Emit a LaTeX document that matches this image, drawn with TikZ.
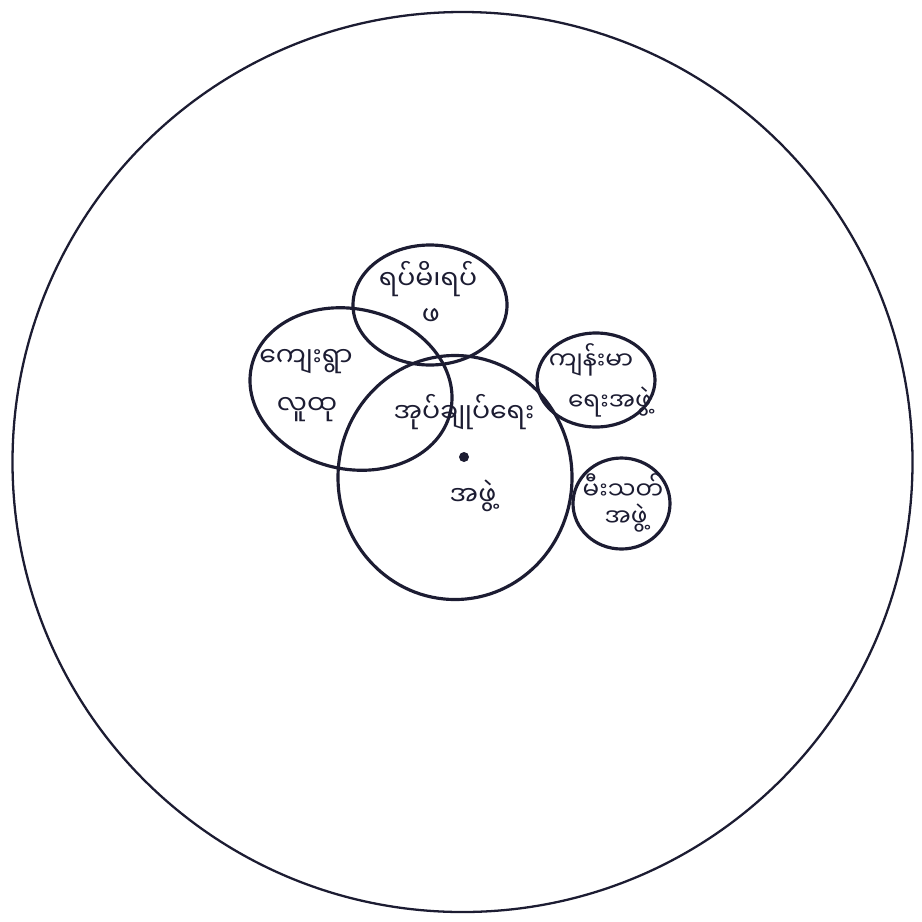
\documentclass[tikz,border=0pt]{standalone}
\usepackage{fontspec}
\newfontfamily\mmfont[Script=Myanmar]{Noto Sans Myanmar UI}
\definecolor{ink}{RGB}{28,28,50}
\begin{document}
\begin{tikzpicture}[x=0.01cm,y=-0.01cm,
  lbl/.style={font=\mmfont\fontsize{7.6}{9}\selectfont, inner sep=0pt, text=ink},
  slbl/.style={font=\mmfont\fontsize{7}{8.5}\selectfont, inner sep=0pt, text=ink},
  ring/.style={draw=ink, line width=0.9pt},
  outer/.style={draw=ink, line width=0.65pt}]
\useasboundingbox (0,0) rectangle (922,921);
% outer circle
\draw[outer] (462.5,462) circle [radius=450];
% group circles
\draw[ring] (430,305) ellipse [x radius=77, y radius=60];
\draw[ring, rotate around={-13:(351,389)}] (351,389) ellipse [x radius=102, y radius=80];
\draw[ring] (455,477.5) ellipse [x radius=117, y radius=122];
\draw[ring] (596,380) ellipse [x radius=59, y radius=47];
\draw[ring] (621.5,503.5) ellipse [x radius=48.5, y radius=45.5];
% centre dot
\fill[ink] (464,457) circle [radius=5];
% labels
\node[lbl] (top1) at (428,279) {ရပ်မိ၊ရပ်};
\node[lbl] (top2) at (431,317) {ဖ};
\node[lbl] (left1) at (306,362) {ကျေးရွာ};
\node[lbl] (left2) at (307,410) {လူထု};
\node[lbl] (mid1) at (464,412) {အုပ်ချုပ်ရေး};
\node[lbl] (mid2) at (473,496) {အဖွဲ့};
\node[slbl] (hl1) at (591,360) {ကျန်းမာ};
\node[slbl] (hl2) at (610,402) {ရေးအဖွဲ့};
\node[slbl] (fb1) at (623,487) {မီးသတ်};
\node[slbl] (fb2) at (626,518) {အဖွဲ့};
\end{tikzpicture}
\end{document}
